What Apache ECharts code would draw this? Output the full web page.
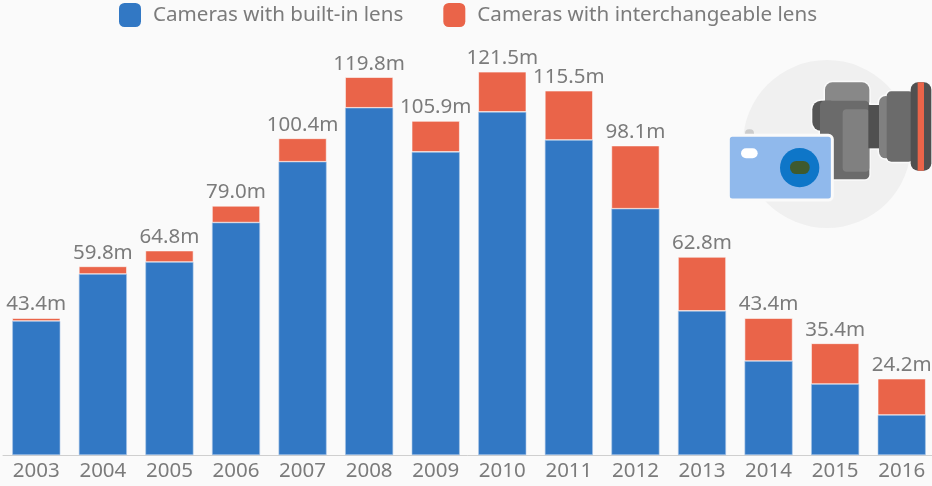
<!DOCTYPE html>
<html>
<head>
<meta charset="utf-8">
<style>html,body{margin:0;padding:0;background:#fafafa}#c{width:932px;height:486px}</style>
<script src="https://cdn.jsdelivr.net/npm/echarts@6/dist/echarts.min.js"></script>
</head>
<body>
<div id="c"></div>
<script>
const years = ['2003','2004','2005','2006','2007','2008','2009','2010','2011','2012','2013','2014','2015','2016'];
const totals = [43.4,59.8,64.8,79.0,100.4,119.8,105.9,121.5,115.5,98.1,62.8,43.4,35.4,24.2];
const builtIn = [42.5,57.4,61.2,73.7,93.0,110.1,96.1,108.8,99.9,78.1,45.7,29.8,22.5,12.7];
const interchangeable = [0.9,2.4,3.6,5.3,7.4,9.7,9.8,12.7,15.6,20.0,17.1,13.6,12.9,11.5];

const BLUE = '#3278c4', RED = '#ea6449', TEXT = '#7b7b7b', FONT = '"Noto Sans"';
const rr = (x, y, w, h, r, fill, extra) => Object.assign({
  type: 'rect', shape: {x, y, width: w, height: h, r}, style: Object.assign({fill}, extra || {})
});
const outline = {stroke: '#fafafa', lineWidth: 9};

const chart = echarts.init(document.getElementById('c'), null, {renderer: 'canvas'});
chart.setOption({
  animation: false,
  backgroundColor: '#fafafa',
  textStyle: {fontFamily: FONT},
  legend: {
    top: -2, left: 114, itemWidth: 22, itemHeight: 24, itemGap: 40,
    icon: 'roundRect',
    itemStyle: {borderWidth: 0},
    textStyle: {color: TEXT, fontSize: 20.6, fontFamily: FONT, padding: [0, 0, 0, 7]},
    data: ['Cameras with built-in lens', 'Cameras with interchangeable lens']
  },
  grid: {left: 3, width: 932, top: 45, height: 410, outerBoundsMode: 'none'},
  xAxis: {
    type: 'category', data: years,
    axisTick: {show: false},
    axisLine: {lineStyle: {color: '#cfcfcf', width: 1}},
    axisLabel: {color: TEXT, fontSize: 20.5, fontFamily: FONT, margin: 6}
  },
  yAxis: {type: 'value', min: 0, max: 130, show: false, splitLine: {show: false}},
  series: [
    {
      name: 'Cameras with built-in lens', type: 'bar', stack: 'a', data: builtIn, barWidth: 48,
      itemStyle: {color: BLUE, borderColor: '#a9c6e8', borderWidth: 0.6}
    },
    {
      name: 'Cameras with interchangeable lens', type: 'bar', stack: 'a', data: interchangeable, barWidth: 48,
      itemStyle: {color: RED, borderColor: '#fbfbfb', borderWidth: 0.6},
      label: {
        show: true, position: 'top', distance: 3, color: TEXT, fontSize: 20.5, fontFamily: FONT,
        formatter: p => totals[p.dataIndex].toFixed(1) + 'm'
      }
    }
  ],
  graphic: [{
    type: 'group', x: 700, y: 50, scaleX: 1 / 3, scaleY: 1 / 3, silent: true,
    children: [
      {type: 'circle', shape: {cx: 381, cy: 282, r: 252}, style: {fill: '#f0f0f0'}},
      rr(375, 97, 133, 90, 22, '#888888', outline),
      rr(337, 152, 80, 90, 26, '#555555', outline),
      rr(360, 152, 148, 236, 14, '#6b6b6b', outline),
      rr(500, 165, 45, 130, 0, '#505050', outline),
      rr(537, 138, 40, 187, 24, '#808080', outline),
      rr(560, 124, 80, 211, 14, '#6b6b6b', outline),
      rr(632, 97, 62, 265, 22, '#505050', outline),
      rr(375, 97, 133, 80, 22, '#888888'),
      rr(337, 152, 80, 90, 26, '#555555'),
      rr(360, 152, 148, 236, 14, '#6b6b6b'),
      rr(428, 178, 80, 187, 12, '#808080'),
      rr(505, 165, 38, 130, 0, '#505050'),
      rr(537, 138, 40, 187, 24, '#808080'),
      rr(560, 124, 80, 211, 14, '#6b6b6b'),
      rr(632, 97, 62, 265, 22, '#505050'),
      rr(653, 97, 19, 265, 0, RED),
      rr(135, 238, 27, 40, 12, '#cccccc'),
      rr(85, 256, 312, 194, 12, '#90b9ec', outline),
      rr(123, 295, 50, 30, 15, '#ffffff'),
      {type: 'circle', shape: {cx: 299, cy: 353, r: 59}, style: {fill: '#0e76c8'}},
      rr(270, 333, 59, 39, 19, '#3f5a2e')
    ]
  }]
});
</script>
</body>
</html>
